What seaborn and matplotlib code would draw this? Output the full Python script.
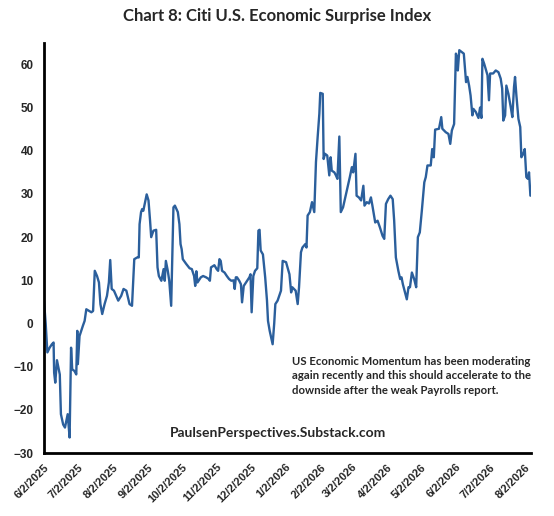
import pandas as pd
import matplotlib.pyplot as plt
import seaborn as sns

# Citi U.S. Economic Surprise Index
start_date = "2025-06-02"
days_from_start = [
    0, 1.5, 3, 5, 7, 8.5, 9, 10, 11.5, 14, 15, 17, 18.6, 21, 22.7, 24, 25, 27, 28.6, 29.5,
    30, 31.5, 34.5, 36, 37.5, 40, 42, 43.5, 45, 47, 48.7, 50, 51.6, 53.7, 55.8, 57.5, 58.7, 60,
    62, 64, 65.8, 68.4, 70.5, 73, 75.8, 78, 80, 82.6, 84, 84.7, 86, 87, 88, 89.3, 91, 92.6,
    94, 95, 97, 99.4, 100.6, 101.8, 104, 106, 107, 108, 109.7, 111, 112.7, 114.7, 116, 118.6,
    120, 121, 122, 123, 126, 129, 131, 133, 134, 135, 136, 139, 141, 143.6, 146, 147, 148,
    151, 153, 154.3, 155.5, 156.6, 157.8, 160, 162, 164, 166, 168, 169, 170, 171, 173, 174.5,
    175.5, 177, 179, 182, 183, 184, 185.5, 187, 189, 190, 191, 192, 194, 196, 197.6, 198.5,
    200, 202.6, 204, 205, 207, 210, 211.5, 214.5, 217.5, 219, 220, 223, 224.8, 226, 227.7,
    229, 231.6, 232.6, 233.6, 235.6, 237.5, 239.5, 241, 242.5, 244, 244.8, 247, 247.8, 249,
    251, 252.8, 254, 255, 257.3, 258.7, 260, 261.7, 263, 265, 267, 269, 271, 272.8, 274, 276,
    277, 279, 281, 283, 284, 286, 288, 289.7, 291, 293.5, 295.6, 297.6, 300, 301.5, 303, 305,
    307, 309, 310.3, 311.8, 314, 315.6, 316.8, 318, 319.5, 321.5, 323, 324.3, 326, 328,
    329.8, 331.3, 333, 334.8, 337, 338.3, 339.8, 342.7, 344, 345.4, 346.6, 350, 352, 353, 356,
    358.4, 360, 361.4, 363.4, 365, 365.9, 366.7, 368, 370, 372, 374, 375.2, 376.7, 378,
    379.6, 380.5, 382.6, 385, 386.4, 387.6, 388.5, 390, 391.3, 393, 394.3, 395.3, 398, 400.3,
    402.7, 404.7, 406, 407, 408.6, 409.7, 411.5, 413.6, 415, 416.5, 417.4, 418.6, 420.4, 422,
    423, 424.7, 426, 427.4, 428.8, 429.8, 431,
]
surprise_index = [
    5.3, 0.0, -6.7, -5.6, -4.8, -4.4, -11.4, -13.7, -8.5, -11.8, -21.0, -23.4, -24.1, -21.0,
    -26.4, -5.6, -10.6, -11.0, -11.8, -1.7, -9.4, -2.9, -0.5, 0.6, 3.3, 2.9, 2.6, 2.9, 12.2,
    11.0, 9.5, 4.5, 2.2, 4.5, 6.4, 9.5, 14.7, 8.0, 7.6, 6.4, 5.3, 6.4, 8.0, 7.6, 4.5, 4.1,
    14.9, 15.3, 15.3, 23.0, 25.8, 26.5, 26.1, 27.7, 29.9, 28.5, 23.8, 20.0, 21.5, 21.7, 13.0,
    11.0, 9.9, 12.6, 9.9, 14.5, 12.2, 9.9, 4.1, 26.9, 27.3, 25.8, 23.0, 18.4, 17.2, 14.9,
    13.8, 12.8, 12.6, 11.0, 8.7, 12.1, 9.5, 10.7, 11.0, 10.7, 10.3, 9.9, 13.0, 13.5, 12.6,
    12.2, 14.9, 14.5, 12.2, 11.8, 11.0, 10.3, 9.9, 10.0, 8.0, 10.7, 10.7, 9.9, 9.1, 4.9, 8.7,
    9.5, 10.7, 11.4, 2.6, 11.0, 12.2, 12.8, 21.5, 21.7, 16.9, 16.0, 10.7, 5.3, 0.6, -1.7,
    -4.8, 0.0, 4.5, 5.3, 7.6, 14.5, 14.2, 11.4, 7.2, 8.4, 7.6, 4.5, 8.4, 16.5, 17.6, 18.4,
    17.6, 25.0, 25.8, 28.1, 25.8, 37.4, 43.2, 48.6, 53.4, 53.2, 38.1, 39.3, 38.9, 34.3, 38.5,
    35.4, 35.0, 34.3, 33.5, 43.3, 25.8, 26.9, 29.2, 31.6, 33.9, 36.2, 35.0, 39.3, 29.6, 29.2,
    28.5, 31.9, 27.3, 28.1, 27.8, 29.2, 27.3, 23.4, 23.8, 22.3, 20.3, 19.6, 27.7, 28.8, 29.6,
    28.8, 23.8, 15.3, 12.2, 10.3, 10.7, 9.1, 7.6, 5.6, 8.4, 8.4, 11.8, 10.3, 8.4, 20.0, 21.1,
    26.1, 32.7, 33.9, 36.6, 36.6, 40.4, 38.5, 44.9, 45.1, 47.8, 45.1, 44.3, 43.9, 41.6, 44.7,
    46.2, 62.5, 61.7, 58.6, 63.3, 62.9, 62.5, 55.9, 57.1, 55.1, 52.8, 48.2, 49.7, 49.0, 47.6,
    50.0, 47.6, 61.3, 60.2, 59.0, 57.5, 51.7, 57.9, 57.9, 58.6, 58.2, 56.7, 54.4, 47.0, 48.2,
    55.1, 53.2, 50.1, 47.8, 54.8, 57.1, 52.8, 47.4, 45.5, 38.5, 39.3, 40.4, 33.9, 33.5, 35.0,
    29.6,
]
# ticks on the 2nd of every month
tick_dates = pd.date_range("2025-06-01", "2026-08-01", freq="MS") + pd.Timedelta(days=1)
y_ticks = [-30, -20, -10, 0, 10, 20, 30, 40, 50, 60]

df = pd.DataFrame({
    "date": pd.Timestamp(start_date) + pd.to_timedelta(days_from_start, unit="D"),
    "value": surprise_index,
})

sns.set_style("white")
plt.rcParams["font.family"] = ["Liberation Sans", "DejaVu Sans"]

fig = plt.figure(figsize=(5.54, 5.16), dpi=100)
ax = fig.add_axes([0.0794, 0.122, 0.879, 0.795])

sns.lineplot(data=df, x="date", y="value", color="#2b5f9c", linewidth=1.7, ax=ax)

ax.set_xlim(pd.Timestamp(start_date), df["date"].max() + pd.Timedelta(days=0.5))
ax.set_ylim(-30, 65)
ax.set_yticks(y_ticks)
ax.set_xticks(tick_dates)
ax.set_xticklabels([f"{d.month}/{d.day}/{d.year}" for d in tick_dates],
                   rotation=45, ha="right", rotation_mode="anchor", fontweight="bold", fontsize=8)
for lbl in ax.get_yticklabels():
    lbl.set_fontweight("bold")
    lbl.set_fontsize(8.5)
ax.tick_params(axis="both", direction="inout", length=7, width=1.5, color="black", pad=3)
ax.tick_params(axis="y", pad=4)
ax.set_xlabel("")
ax.set_ylabel("")

for side in ["top", "right"]:
    ax.spines[side].set_visible(False)
for side in ["left", "bottom"]:
    ax.spines[side].set_linewidth(2)
    ax.spines[side].set_color("black")

fig.suptitle("Chart 8: Citi U.S. Economic Surprise Index", x=0.5, y=0.985,
             fontsize=12, fontweight="bold", family=["Lato", "DejaVu Sans"])

ax.text(0.51, 0.236,
        "US Economic Momentum has been moderating\n"
        "again recently and this should accelerate to the\n"
        "downside after the weak Payrolls report.",
        transform=ax.transAxes, ha="left", va="top", fontsize=8.2, fontweight="bold",
        linespacing=1.35, family=["Lato", "DejaVu Sans"])
ax.text(0.48, 0.035, "PaulsenPerspectives.Substack.com", transform=ax.transAxes,
        ha="center", va="bottom", fontsize=10, fontweight="bold",
        family=["Lato", "DejaVu Sans"])

plt.savefig("out.png", dpi=100)
plt.close()
